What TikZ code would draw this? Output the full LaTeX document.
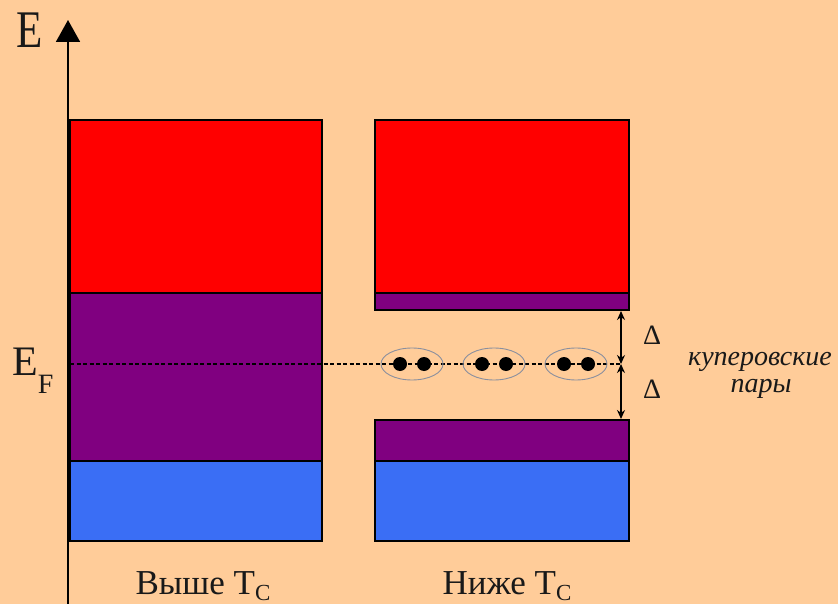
\documentclass[tikz,border=0pt]{standalone}
\usepackage{fontspec}
\setmainfont{Liberation Serif}
\usetikzlibrary{arrows.meta,shapes.geometric}
\definecolor{bg}{HTML}{FFCC99}
\definecolor{bandred}{HTML}{FF0000}
\definecolor{bandpurple}{HTML}{800080}
\definecolor{bandblue}{HTML}{3A6EF5}
\definecolor{ringgray}{HTML}{8A8F9E}
\tikzset{
  band/.style={draw=black, line width=1.8pt},
  pairdot/.style={circle, fill=black, inner sep=0pt, minimum size=14pt},
  pairring/.style={ellipse, draw=ringgray, line width=0.9pt, minimum width=62pt, minimum height=32pt, inner sep=0pt},
  lbl/.style={inner sep=0pt, text=black!90},
  gaparrow/.style={{Stealth[length=9pt,width=8pt]}-{Stealth[length=9pt,width=8pt]}, line width=1.4pt}
}
\begin{document}
\begin{tikzpicture}[x=1pt,y=-1pt]
\useasboundingbox (0,0) rectangle (838,604);
\fill[bg] (0,0) rectangle (838,604);
% left column
\fill[bandred] (70,120) rectangle (322,293);
\fill[bandpurple] (70,293) rectangle (322,461);
\fill[bandblue] (70,461) rectangle (322,541);
\draw[band] (70,120) rectangle (322,293);
\draw[band] (70,293) rectangle (322,461);
\draw[band] (70,461) rectangle (322,541);
% right column
\fill[bandred] (375,120) rectangle (629,293);
\fill[bandpurple] (375,293) rectangle (629,310);
\fill[bandpurple] (375,420) rectangle (629,461);
\fill[bandblue] (375,461) rectangle (629,541);
\draw[band] (375,120) rectangle (629,310);
\draw[band] (375,293) -- (629,293);
\draw[band] (375,420) rectangle (629,541);
\draw[band] (375,461) -- (629,461);
% axis
\coordinate (axbot) at (68,604);
\coordinate (axtop) at (68,20);
\draw[line width=1.8pt, -{Triangle[length=22pt,width=24pt]}] (axbot) -- (axtop);
\node[lbl, anchor=base] (E) at (30,48) {\scalebox{1}[1.23]{\fontsize{43}{45}\selectfont E}};
% Fermi level
\coordinate (efl) at (70,364);
\coordinate (efr) at (622,364);
\draw[line width=1.6pt, dash pattern=on 4pt off 2.5pt] (efl) -- (efr);
\node[lbl, anchor=base west] (EF) at (12,375) {\fontsize{42}{44}\selectfont E\raisebox{-0.45em}{\fontsize{28}{30}\selectfont F}};
% Cooper pairs
\foreach \cx/\n in {412/a,494/b,576/c}{
  \node[pairring] (ring\n) at (\cx,364) {};
  \node[pairdot] (d1\n) at (\cx-12,364) {};
  \node[pairdot] (d2\n) at (\cx+12,364) {};
}
% gap arrows
\coordinate (gtop) at (621,311);
\coordinate (gmid) at (621,364);
\coordinate (gbot) at (621,419);
\draw[gaparrow] (gtop) -- (gmid);
\draw[gaparrow] (gmid) -- (gbot);
\node[lbl, font=\fontsize{28}{30}\selectfont] (D1) at (652,335) {Δ};
\node[lbl, font=\fontsize{28}{30}\selectfont] (D2) at (652,389) {Δ};
\node[lbl, anchor=base, font=\fontsize{28}{30}\selectfont\itshape] (cp1) at (760,365) {куперовские};
\node[lbl, anchor=base, font=\fontsize{28}{30}\selectfont\itshape] (cp2) at (761,392) {пары};
% bottom labels
\node[lbl, anchor=base] (above) at (203,594) {\fontsize{35}{37}\selectfont Выше T\raisebox{-0.18em}{\fontsize{23}{25}\selectfont C}};
\node[lbl, anchor=base] (below) at (507,594) {\fontsize{35}{37}\selectfont Ниже T\raisebox{-0.18em}{\fontsize{23}{25}\selectfont C}};
\end{tikzpicture}
\end{document}
